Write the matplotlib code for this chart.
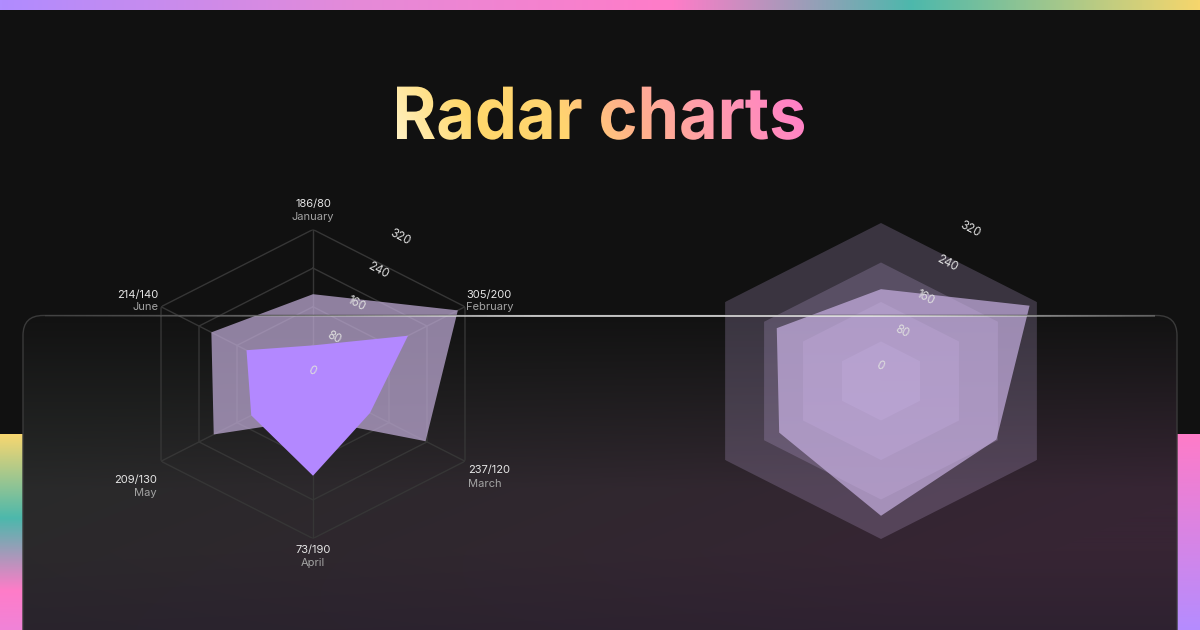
import numpy as np
import matplotlib
matplotlib.use('Agg')
import matplotlib.pyplot as plt
from matplotlib.patches import FancyBboxPatch, PathPatch
from matplotlib.textpath import TextPath
from matplotlib.font_manager import FontProperties
from matplotlib.colors import to_rgb
from matplotlib.transforms import Affine2D
from matplotlib.collections import LineCollection

# data
months = ['January', 'February', 'March', 'April', 'May', 'June']
desktop = [186, 305, 237, 73, 209, 214]
mobile = [80, 200, 120, 190, 130, 140]
desktop_right = [186, 305, 237, 273, 209, 214]
levels = [80, 160, 240, 320]
tick_values = [0, 80, 160, 240, 320]
title = 'Radar charts'

W, H = 1200, 630
plt.rcParams['font.family'] = ['Inter', 'DejaVu Sans']


def ramp(colors, stops, s):
    rgb = np.array([to_rgb(c) for c in colors])
    return np.stack([np.interp(s, stops, rgb[:, k]) for k in range(3)], axis=-1)


fig = plt.figure(figsize=(12, 6.3), dpi=100)
fig.patch.set_facecolor('#111111')
bg = fig.add_axes([0, 0, 1, 1])
bg.set_xlim(0, W)
bg.set_ylim(H, 0)
bg.axis('off')

# top stripe
top = ramp(['#b08cff', '#e58ad8', '#ff7cc8', '#4db8ac', '#f6d66c'],
           [0, 0.3, 0.56, 0.76, 1], np.linspace(0, 1, 600))[None, :, :]
bg.imshow(top, extent=(0, W, 10, 0), aspect='auto', zorder=1)

# side stripes
ls = ramp(['#f8d770', '#4cb8ac', '#ff7cc8', '#f083d8'], [0, 0.43, 0.8, 1],
          np.linspace(0, 1, 200))[:, None, :]
bg.imshow(ls, extent=(0, 23, H, 434), aspect='auto', zorder=1)
rs = ramp(['#ff7cc8', '#b58cff'], [0, 1], np.linspace(0, 1, 200))[:, None, :]
bg.imshow(rs, extent=(1177, W, H, 434), aspect='auto', zorder=1)

# card background
yy, xx = np.mgrid[0:316, 0:1154]
t = yy / 315.0
u = xx / 1154.0
c_top = np.array([18, 18, 18]) / 255
c_gray = np.array([40, 42, 41]) / 255
c_plum = np.array([55, 37, 52]) / 255
c_dark = np.array([36, 30, 44]) / 255
v = np.clip(t / 0.55, 0, 1)[..., None]
d = np.clip(0.9 * u + 0.6 * t - 0.25, 0, 1)[..., None]
mid = c_gray * (1 - d) + c_plum * d
col = c_top * (1 - v) + mid * v
b = (np.clip((t - 0.75) / 0.25, 0, 1) * 0.45)[..., None]
col = col * (1 - b) + c_dark * b
card = FancyBboxPatch((23, 315.5), 1154, 400, boxstyle='round,pad=0,rounding_size=20',
                      fc='none', ec='none')
bg.add_patch(card)
im = bg.imshow(col, extent=(23, 1177, H, 315.5), aspect='auto', zorder=1)
im.set_clip_path(card)

# gradient title
fp = FontProperties(family='Inter', weight='bold')
tp = TextPath((0, 0), title, size=72, prop=fp)
ext = tp.get_extents()
sx = 407.0 / ext.width
tx0, base = 397.0, 139.0
path = Affine2D().translate(-ext.x0, 0).scale(sx, -1).translate(tx0, base).transform_path(tp)
tpatch = PathPatch(path, fc='none', ec='none', transform=bg.transData)
bg.add_patch(tpatch)
gy, gx = np.mgrid[0:60, 0:420]
gs = gx / 420.0 - 0.08 * gy / 60.0
tg = ramp(['#fff4cc', '#ffd86c', '#ffd470', '#ffb28a', '#ff9eaa', '#ff7ccc'],
          [-0.08, 0.14, 0.36, 0.52, 0.7, 0.98], gs)
tim = bg.imshow(tg, extent=(tx0 - 5, tx0 + 415, base + 6, base - 54), aspect='auto', zorder=3)
tim.set_clip_path(tpatch)
bg.set_xlim(0, W)
bg.set_ylim(H, 0)

angles = np.deg2rad(np.arange(6) * 60)
closed = np.append(angles, angles[0])


def radar_axes(cx, cy, hw, hh):
    ax = fig.add_axes([(cx - hw) / W, (H - cy - hh) / H, 2 * hw / W, 2 * hh / H],
                      projection='polar')
    ax.set_aspect('auto')
    ax.set_theta_zero_location('N')
    ax.set_theta_direction(-1)
    ax.set_ylim(0, 320)
    ax.set_axis_off()
    ax.patch.set_alpha(0)
    return ax


def radial_ticks(ax, off):
    for val in tick_values:
        ax.annotate(str(val), xy=(np.deg2rad(30), val), xytext=off, textcoords='offset pixels',
                    rotation=-28, rotation_mode='anchor', ha='center', va='center',
                    fontsize=8.3, color='#dedede', zorder=6, annotation_clip=False)


# left radar
axl = radar_axes(313, 384, 175.5, 154.5)
for lv in levels:
    axl.plot(closed, [lv] * 7, color='#363636', lw=1, zorder=1)
for a in angles:
    axl.plot([a, a], [0, 320], color='#363636', lw=1, zorder=1)
axl.fill(closed, desktop + desktop[:1], color='#c5b0dd', alpha=0.7, lw=0, zorder=2)
axl.fill(closed, mobile + mobile[:1], color='#b388ff', lw=0, zorder=3)
radial_ticks(axl, (-1, 13))

# label placement: (ha, dx, dy value, dy month)
label_pos = [('center', 0, 25, 12), ('left', 1, 12, 0), ('left', 3, -9, -23),
             ('center', 0, -11, -24), ('right', -4, -19, -32), ('right', -3, 12, 0)]
for i, m in enumerate(months):
    ha, dx, dv, dm = label_pos[i]
    axl.annotate(f'{desktop[i]}/{mobile[i]}', xy=(angles[i], 320), xytext=(dx, dv),
                 textcoords='offset pixels', ha=ha, va='center', fontsize=8,
                 color='#e6e6e6', annotation_clip=False)
    axl.annotate(m, xy=(angles[i], 320), xytext=(dx, dm), textcoords='offset pixels',
                 ha=ha, va='center', fontsize=8, color='#a3a3a3', annotation_clip=False)

# right radar
axr = radar_axes(881, 381, 180, 158)
for lv in levels:
    axr.fill(closed, [lv] * 7, color='#c4acdf', alpha=0.23, lw=0, zorder=1)
axr.fill(closed, desktop_right + desktop_right[:1], color='#d0b8ec', alpha=0.66, lw=0, zorder=2)
radial_ticks(axr, (-1, 15))

# card outline with highlight on top edge
ov = fig.add_axes([0, 0, 1, 1], zorder=10)
ov.set_xlim(0, W)
ov.set_ylim(H, 0)
ov.axis('off')
ov.patch.set_alpha(0)
ov.add_patch(FancyBboxPatch((23, 315.5), 1154, 400, boxstyle='round,pad=0,rounding_size=20',
                            fc='none', ec='#3a3a3a', lw=1))
xs = np.linspace(45, 1155, 300)
segs = [[(xs[k], 315.5), (xs[k + 1], 315.5)] for k in range(len(xs) - 1)]
alph = np.clip(1.1 * np.exp(-((xs[:-1] - 700) / 380) ** 2), 0, 0.9)
ov.add_collection(LineCollection(segs, colors=[(1, 1, 1, a) for a in alph], lw=1.1))

fig.savefig('out.png', dpi=100, facecolor=fig.get_facecolor())
